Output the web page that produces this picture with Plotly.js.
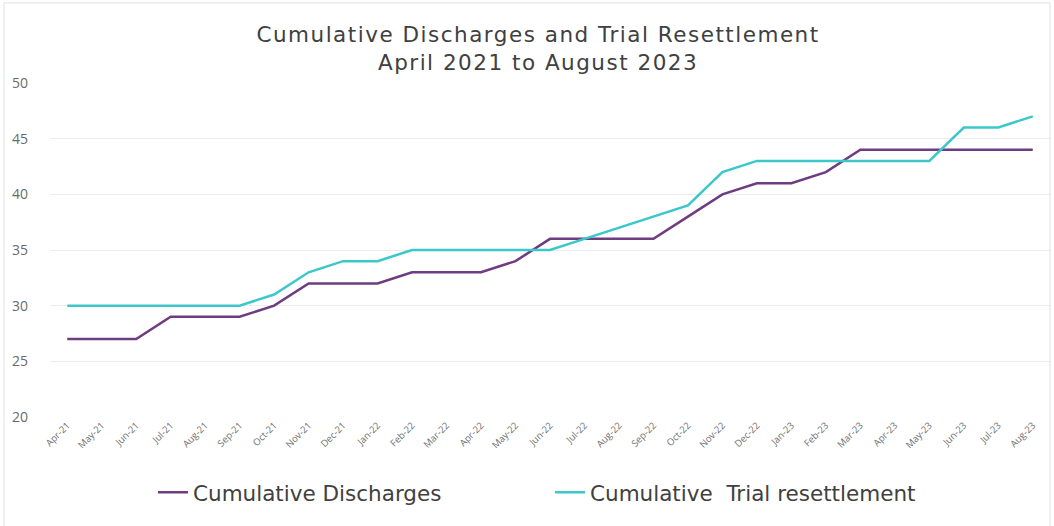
<!DOCTYPE html>
<html><head><meta charset="utf-8">
<script src="https://cdn.plot.ly/plotly-3.0.1.min.js"></script>
<style>html,body{margin:0;padding:0;background:#fff}#chart{width:1054px;height:526px}
#chart .gtitle{letter-spacing:1.5px}</style>
</head><body><div id="chart"></div>
<script>
const months = ["Apr-21","May-21","Jun-21","Jul-21","Aug-21","Sep-21","Oct-21","Nov-21","Dec-21","Jan-22","Feb-22","Mar-22","Apr-22","May-22","Jun-22","Jul-22","Aug-22","Sep-22","Oct-22","Nov-22","Dec-22","Jan-23","Feb-23","Mar-23","Apr-23","May-23","Jun-23","Jul-23","Aug-23"];
const discharges = [27,27,27,29,29,29,30,32,32,32,33,33,33,34,36,36,36,36,38,40,41,41,42,44,44,44,44,44,44];
const trialResettlement = [30,30,30,30,30,30,31,33,34,34,35,35,35,35,35,36,37,38,39,42,43,43,43,43,43,43,46,46,47];
const yTicks = [20,25,30,35,40,45,50];

const font = "'Open Sans', sans-serif";
const wideFont = "'DejaVu Sans', 'Open Sans', sans-serif";
const traces = [
  {x: months, y: discharges, type: 'scatter', mode: 'lines', name: 'Cumulative Discharges',
   line: {color: '#6E3C80', width: 2.5}},
  {x: months, y: trialResettlement, type: 'scatter', mode: 'lines', name: 'Cumulative  Trial resettlement',
   line: {color: '#3CC7CB', width: 2.5}}
];
const layout = {
  width: 1054, height: 526,
  margin: {l: 50, r: 4, t: 83, b: 109},
  paper_bgcolor: '#fff', plot_bgcolor: '#fff',
  font: {family: font, color: '#595959'},
  title: {text: 'Cumulative Discharges and Trial Resettlement<br>April 2021 to August 2023',
          font: {family: wideFont, size: 21.5, color: '#404040'}, x: 0.5105, xanchor: 'center', y: 0.92, yanchor: 'middle'},
  xaxis: {type: 'category', range: [-0.5, 28.5], tickangle: -45, tickfont: {size: 9.5, color: '#6f6f6f'},
          showgrid: false, zeroline: false, showline: false, ticks: ''},
  yaxis: {range: [20, 50], tickvals: yTicks, tickfont: {size: 14, color: '#6a6a6a'},
          showgrid: true, gridcolor: '#ececec', gridwidth: 1, zeroline: false, showline: false, ticks: '',
          ticklabelstandoff: 21},
  showlegend: true,
  legend: {orientation: 'h', x: 0.103, xanchor: 'left', y: -0.225, yanchor: 'middle',
           font: {family: wideFont, size: 21.5, color: '#404040'}, itemwidth: 30, tracegroupgap: 0,
           entrywidth: 352},
  shapes: [{type: 'rect', xref: 'paper', yref: 'paper', x0: -0.046, x1: 1.0, y0: -0.33, y1: 1.24,
            line: {color: '#e0e0e0', width: 1}}]
};
Plotly.newPlot('chart', traces, layout, {displayModeBar: false, staticPlot: true});
</script>
</body></html>
